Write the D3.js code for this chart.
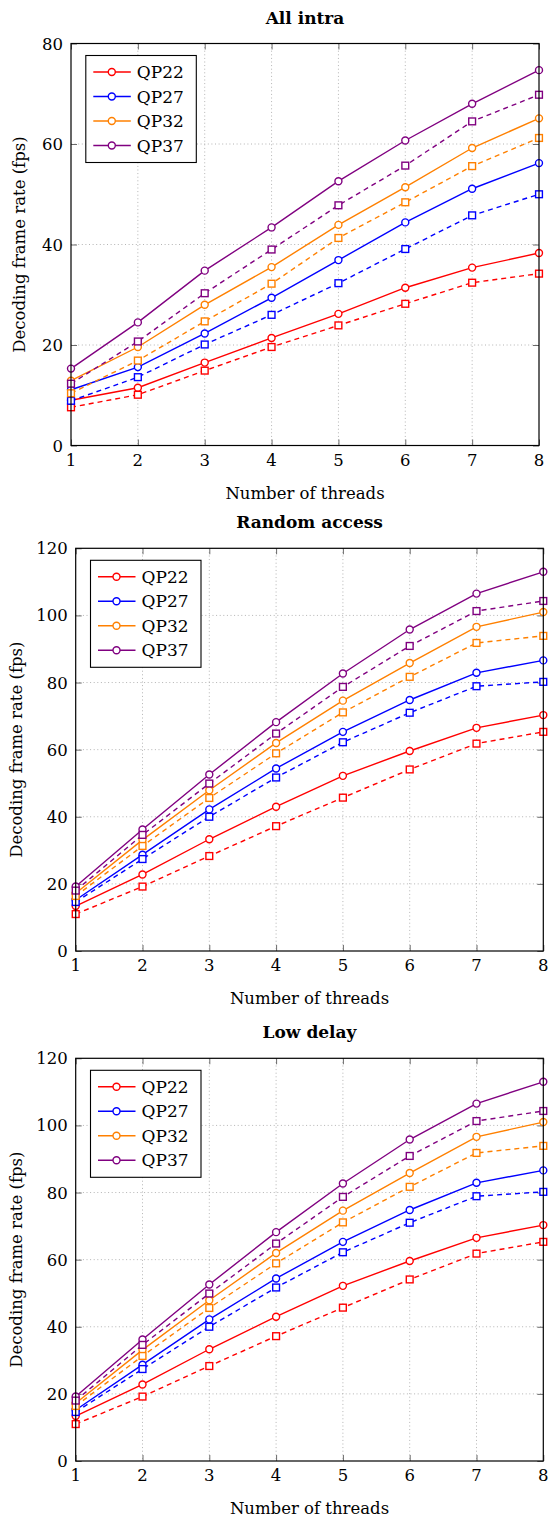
<!DOCTYPE html>
<html>
<head>
<meta charset="utf-8">
<script src="https://cdn.jsdelivr.net/npm/d3@7"></script>
<style>
  html, body { margin: 0; padding: 0; background: #fff; }
  svg { display: block; }
  text { font-family: "DejaVu Serif", "Liberation Serif", serif; fill: #000; }
</style>
</head>
<body>
<svg id="chart" width="549" height="1520"></svg>
<script>
// ---------------- DATA ----------------
const threads = [1, 2, 3, 4, 5, 6, 7, 8];
const seriesNames = ["QP22", "QP27", "QP32", "QP37"];
const seriesColors = ["#ff0000", "#0000ff", "#ff8000", "#800080"];

// All intra
const aiQP22 = [9.0, 11.5, 16.5, 21.4, 26.2, 31.4, 35.4, 38.3];
const aiQP22b = [7.6, 10.1, 14.9, 19.6, 23.9, 28.2, 32.4, 34.2];
const aiQP27 = [11.1, 15.6, 22.3, 29.4, 36.9, 44.4, 51.1, 56.2];
const aiQP27b = [8.9, 13.6, 20.1, 26.0, 32.3, 39.1, 45.8, 50.0];
const aiQP32 = [12.9, 19.6, 28.0, 35.5, 43.9, 51.4, 59.2, 65.1];
const aiQP32b = [10.4, 16.9, 24.7, 32.2, 41.3, 48.4, 55.6, 61.2];
const aiQP37 = [15.3, 24.5, 34.8, 43.4, 52.6, 60.7, 68.0, 74.7];
const aiQP37b = [12.3, 20.7, 30.3, 39.0, 47.8, 55.7, 64.5, 69.8];

// Random access
const raQP22 = [13.4, 22.8, 33.3, 43.0, 52.2, 59.6, 66.5, 70.3];
const raQP22b = [11.0, 19.2, 28.3, 37.2, 45.7, 54.1, 61.8, 65.3];
const raQP27 = [15.2, 28.7, 42.2, 54.4, 65.3, 74.8, 82.9, 86.6];
const raQP27b = [14.6, 27.4, 40.0, 51.7, 62.2, 71.0, 78.9, 80.2];
const raQP32 = [17.2, 33.1, 47.9, 62.0, 74.6, 85.8, 96.6, 101.0];
const raQP32b = [16.4, 31.3, 45.6, 58.9, 71.1, 81.7, 91.8, 93.9];
const raQP37 = [19.2, 36.2, 52.6, 68.2, 82.7, 95.8, 106.5, 113.0];
const raQP37b = [18.0, 34.6, 49.9, 64.8, 78.7, 90.9, 101.3, 104.3];

// Low delay
const ldQP22 = [13.4, 22.8, 33.3, 43.0, 52.2, 59.6, 66.5, 70.3];
const ldQP22b = [11.0, 19.2, 28.3, 37.2, 45.7, 54.1, 61.8, 65.3];
const ldQP27 = [15.2, 28.7, 42.2, 54.4, 65.3, 74.8, 82.9, 86.6];
const ldQP27b = [14.6, 27.4, 40.0, 51.7, 62.2, 71.0, 78.9, 80.2];
const ldQP32 = [17.2, 33.1, 47.9, 62.0, 74.6, 85.8, 96.6, 101.0];
const ldQP32b = [16.4, 31.3, 45.6, 58.9, 71.1, 81.7, 91.8, 93.9];
const ldQP37 = [19.2, 36.2, 52.6, 68.2, 82.7, 95.8, 106.5, 113.0];
const ldQP37b = [18.0, 34.6, 49.9, 64.8, 78.7, 90.9, 101.3, 104.3];

const aiTicks = [0, 20, 40, 60, 80];
const raTicks = [0, 20, 40, 60, 80, 100, 120];
const ldTicks = [0, 20, 40, 60, 80, 100, 120];

const panelTitles = ["All intra", "Random access", "Low delay"];
const xLabel = "Number of threads";
const yLabel = "Decoding frame rate (fps)";

// ---------------- LAYOUT ----------------
const panels = [
  { title: panelTitles[0], left: 71, right: 539, top: 43.5, bottom: 445.5, ymax: 80, ticks: aiTicks, ylabX: 19,
    solid: [aiQP22, aiQP27, aiQP32, aiQP37], dashed: [aiQP22b, aiQP27b, aiQP32b, aiQP37b] },
  { title: panelTitles[1], left: 75.7, right: 543.3, top: 548.3, bottom: 951, ymax: 120, ticks: raTicks, ylabX: 16,
    solid: [raQP22, raQP27, raQP32, raQP37], dashed: [raQP22b, raQP27b, raQP32b, raQP37b] },
  { title: panelTitles[2], left: 75.7, right: 543.3, top: 1058.3, bottom: 1461, ymax: 120, ticks: ldTicks, ylabX: 16,
    solid: [ldQP22, ldQP27, ldQP32, ldQP37], dashed: [ldQP22b, ldQP27b, ldQP32b, ldQP37b] }
];

const svg = d3.select("#chart");
const FS = 16.5;

panels.forEach(p => {
  const g = svg.append("g");
  const x = d3.scaleLinear().domain([1, 8]).range([p.left, p.right]);
  const y = d3.scaleLinear().domain([0, p.ymax]).range([p.bottom, p.top]);
  const w = p.right - p.left, h = p.bottom - p.top;

  // grid
  const grid = g.append("g");
  grid.selectAll("line.gx").data(threads.slice(1, -1)).enter().append("line")
    .attr("x1", d => x(d)).attr("x2", d => x(d)).attr("y1", p.top).attr("y2", p.bottom)
    .attr("stroke", "#b4b4b4").attr("stroke-width", 1).attr("stroke-dasharray", "1,2.6");
  grid.selectAll("line.gy").data(p.ticks.slice(1, -1)).enter().append("line")
    .attr("y1", d => y(d)).attr("y2", d => y(d)).attr("x1", p.left).attr("x2", p.right)
    .attr("stroke", "#b4b4b4").attr("stroke-width", 1).attr("stroke-dasharray", "1,2.6");

  // inner ticks all four sides
  const tk = 6;
  const axB = g.append("g").attr("transform", `translate(0,${p.bottom})`)
    .call(d3.axisBottom(x).tickValues(threads).tickSize(-tk).tickFormat(""));
  const axT = g.append("g").attr("transform", `translate(0,${p.top})`)
    .call(d3.axisTop(x).tickValues(threads).tickSize(-tk).tickFormat(""));
  const axL = g.append("g").attr("transform", `translate(${p.left},0)`)
    .call(d3.axisLeft(y).tickValues(p.ticks).tickSize(-tk).tickFormat(""));
  const axR = g.append("g").attr("transform", `translate(${p.right},0)`)
    .call(d3.axisRight(y).tickValues(p.ticks).tickSize(-tk).tickFormat(""));
  [axB, axT, axL, axR].forEach(a => {
    a.select(".domain").remove();
    a.selectAll(".tick line").attr("stroke", "#6a6a6a").attr("stroke-width", 1);
  });

  // tick labels
  g.selectAll("text.xt").data(threads).enter().append("text")
    .attr("x", d => x(d)).attr("y", p.bottom + 20).attr("text-anchor", "middle")
    .attr("font-size", FS).text(d => d);
  g.selectAll("text.yt").data(p.ticks).enter().append("text")
    .attr("x", p.left - 8).attr("y", d => y(d) + 6).attr("text-anchor", "end")
    .attr("font-size", FS).text(d => d);

  // series: lines then markers
  const line = d3.line().x((d, i) => x(threads[i])).y(d => y(d));
  const plot = g.append("g");
  seriesNames.forEach((name, k) => {
    const c = seriesColors[k];
    plot.append("path").datum(p.solid[k]).attr("d", line)
      .attr("fill", "none").attr("stroke", c).attr("stroke-width", 1.4);
    plot.selectAll(null).data(p.solid[k]).enter().append("circle")
      .attr("cx", (d, i) => x(threads[i])).attr("cy", d => y(d)).attr("r", 3.5)
      .attr("fill", "#fff").attr("stroke", c).attr("stroke-width", 1.4);
    plot.append("path").datum(p.dashed[k]).attr("d", line)
      .attr("fill", "none").attr("stroke", c).attr("stroke-width", 1.4).attr("stroke-dasharray", "5,4");
    plot.selectAll(null).data(p.dashed[k]).enter().append("rect")
      .attr("x", (d, i) => x(threads[i]) - 3.4).attr("y", d => y(d) - 3.4)
      .attr("width", 6.8).attr("height", 6.8)
      .attr("fill", "#fff").attr("stroke", c).attr("stroke-width", 1.4);
  });

  // frame
  g.append("rect").attr("x", p.left).attr("y", p.top).attr("width", w).attr("height", h)
    .attr("fill", "none").attr("stroke", "#000").attr("stroke-width", 1.2);

  // legend
  const lx = p.left + 14.8, ly = p.top + 12;
  const lg = g.append("g");
  lg.append("rect").attr("x", lx).attr("y", ly).attr("width", 110.5).attr("height", 107)
    .attr("fill", "#fff").attr("stroke", "#000").attr("stroke-width", 1.1);
  seriesNames.forEach((name, k) => {
    const ry = ly + 16.5 + k * 24.5;
    lg.append("line").attr("x1", lx + 7.5).attr("x2", lx + 45).attr("y1", ry).attr("y2", ry)
      .attr("stroke", seriesColors[k]).attr("stroke-width", 1.4);
    lg.append("circle").attr("cx", lx + 26).attr("cy", ry).attr("r", 3.5)
      .attr("fill", "#fff").attr("stroke", seriesColors[k]).attr("stroke-width", 1.4);
    lg.append("text").attr("x", lx + 51).attr("y", ry + 6).attr("font-size", FS + 0.5).text(name);
  });

  // titles and labels
  g.append("text").attr("x", (p.left + p.right) / 2).attr("y", p.top - 20)
    .attr("text-anchor", "middle").attr("font-weight", "bold").attr("font-size", FS + 0.5).text(p.title);
  g.append("text").attr("x", (p.left + p.right) / 2).attr("y", p.bottom + 53)
    .attr("text-anchor", "middle").attr("font-size", FS).text(xLabel);
  g.append("text").attr("transform", `translate(${p.ylabX},${(p.top + p.bottom) / 2}) rotate(-90)`)
    .attr("text-anchor", "middle").attr("dy", "0.35em").attr("font-size", FS).text(yLabel);
});
</script>
</body>
</html>
